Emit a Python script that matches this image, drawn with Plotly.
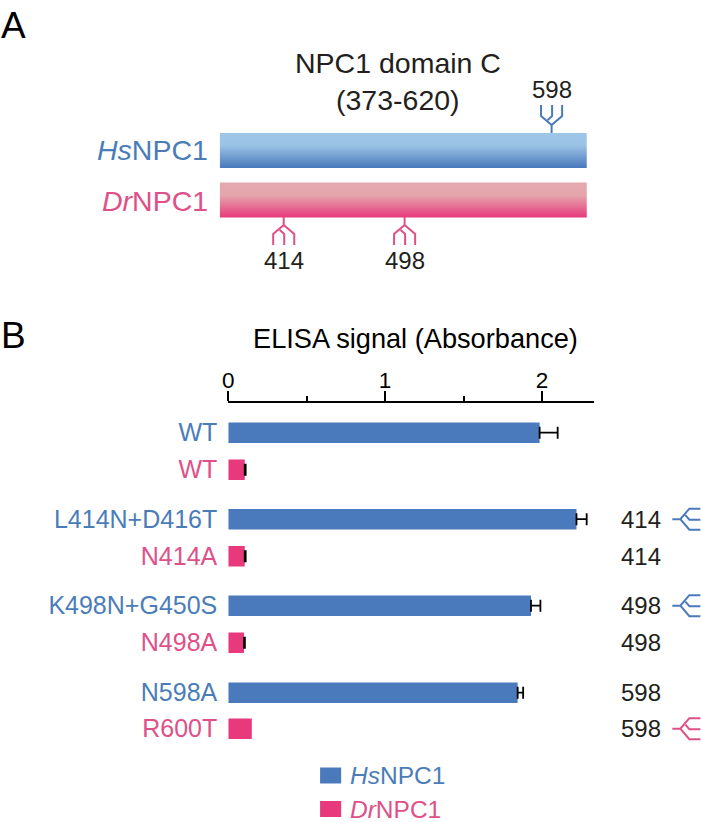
import plotly.graph_objects as go

W = 701
H = 822

BLUE = '#4a7abc'
PINK = '#e8397c'
BLUE_TXT = '#4a7db8'
PINK_TXT = '#e05088'
DARK = '#231f20'

# panel B values
hs_labels = ['WT', 'L414N+D416T', 'K498N+G450S', 'N598A']
dr_labels = ['WT', 'N414A', 'N498A', 'R600T']
hs_values = [1.985, 2.22, 1.93, 1.845]
dr_values = [0.105, 0.105, 0.10, 0.15]
hs_errors = [0.115, 0.065, 0.06, 0.035]
dr_errors = [0.006, 0.006, 0.006, None]
hs_sites = ['', '414', '498', '598']
dr_sites = ['', '414', '498', '598']
hs_glycan_flags = [False, True, True, False]
dr_glycan_flags = [False, False, False, True]

# panel A values
domain_start = 373
domain_end = 620
hs_glycans = [598]
dr_glycans = [414, 498]
hs_gradient = [[0, '#9dc6e9'], [0.35, '#9bc3e6'], [1, '#4a7abc']]
dr_gradient = [[0, '#e4a9ae'], [0.35, '#e4a5ab'], [1, '#e8397c']]

# the photographed page sits a little off the requested width
X_OFF = 7
X_SCALE = 0.988


def px_x(x):
    return (x - X_OFF) / X_SCALE / W


def px_y(y):
    return 1 - y / H


def glycan_path(cx, cy, sx, sy, swap=False):
    # antenna drawn pointing along +v from the base point (cx, cy)
    segs = [
        [(0, 0), (0, 8), (-10.5, 17), (-10.5, 28)],
        [(0, 8), (10.5, 17), (10.5, 28)],
        [(-4, 13), (0.5, 17), (0.5, 28)],
    ]
    out = ''
    for seg in segs:
        for i, (u, v) in enumerate(seg):
            if swap:
                x, y = cx + v * sx, cy + u * sy
            else:
                x, y = cx + u * sx, cy + v * sy
            out += ('M' if i == 0 else 'L') + f'{px_x(x):.5f},{px_y(y):.5f} '
    return out


def add_glycan(fig, cx, cy, sx, sy, color, swap=False):
    fig.add_shape(type='path', xref='paper', yref='paper', path=glycan_path(cx, cy, sx, sy, swap),
                  line=dict(color=color, width=2), fillcolor='rgba(0,0,0,0)')


def note(fig, text, x, y, size=24, color=DARK, xanchor='center'):
    fig.add_annotation(text=text, x=px_x(x), y=px_y(y), xref='paper', yref='paper', showarrow=False,
                       xanchor=xanchor, yanchor='middle', font=dict(size=size, color=color), align='center')


ROW = 37.0
GROUP = 86.5
hs_pos = [i * GROUP for i in range(4)]
dr_pos = [p + ROW for p in hs_pos]
hs_pos[3] += 0.5
dr_pos[3] -= 0.5

fig = go.Figure()

fig.add_trace(go.Bar(
    y=hs_pos, x=hs_values, orientation='h', width=20.4, marker=dict(color=BLUE, line_width=0), showlegend=False,
    error_x=dict(type='data', symmetric=False, array=hs_errors, arrayminus=[0] * 4, color='black', thickness=1.8, width=6),
))
# plotly draws a cap for a missing error too, so bars without one go in their own trace
with_err = [i for i in range(4) if dr_errors[i] is not None]
no_err = [i for i in range(4) if dr_errors[i] is None]
fig.add_trace(go.Bar(
    y=[dr_pos[i] for i in with_err], x=[dr_values[i] for i in with_err], orientation='h', width=20.4,
    marker=dict(color=PINK, line_width=0), showlegend=False,
    error_x=dict(type='data', symmetric=False, array=[dr_errors[i] for i in with_err], arrayminus=[0] * len(with_err),
                 color='black', thickness=1.8, width=6),
))
fig.add_trace(go.Bar(
    y=[dr_pos[i] for i in no_err], x=[dr_values[i] for i in no_err], orientation='h', width=20.4,
    marker=dict(color=PINK, line_width=0), showlegend=False,
))

# domain bars, heatmap rows give the vertical gradient
BAR_H = 35
for gradient, top in [(hs_gradient, 133), (dr_gradient, 182.5)]:
    fig.add_trace(go.Heatmap(
        x=[domain_start, domain_end], y=[top + k for k in range(BAR_H + 1)],
        z=[[k / (BAR_H - 1)] for k in range(BAR_H)], zmin=0, zmax=1,
        colorscale=gradient, showscale=False, xaxis='x2', yaxis='y2', hoverinfo='skip',
    ))

ticktext = []
tickvals = []
for i in range(4):
    tickvals += [hs_pos[i], dr_pos[i]]
    ticktext += [f'<span style="color:{BLUE_TXT}">{hs_labels[i]}</span>',
                 f'<span style="color:{PINK_TXT}">{dr_labels[i]}</span>']

fig.update_layout(
    width=W, height=H, margin=dict(l=0, r=0, t=0, b=0), paper_bgcolor='white', plot_bgcolor='rgba(0,0,0,0)',
    font=dict(family='Liberation Sans', size=24, color=DARK), showlegend=False, barmode='overlay',
    xaxis=dict(domain=[px_x(228.5), px_x(592.7)], range=[0, 2.33], side='top', anchor='y', showgrid=False, zeroline=False,
               showline=True, linecolor='black', linewidth=1.8, ticks='outside', ticklen=10, tickwidth=1.8, tickcolor='black',
               tickvals=[0, 1, 2], ticktext=['0', '1', '2'], tickfont=dict(size=22.5, color='black'), ticklabelstandoff=-6,
               minor=dict(tickvals=[0.5, 1.5], ticks='outside', ticklen=5, tickwidth=1.8, tickcolor='black')),
    yaxis=dict(domain=[px_y(760), px_y(402.7)], range=[357.3 - 30, -30], anchor='x', showgrid=False, zeroline=False,
               showline=False, ticks='', tickvals=tickvals, ticktext=ticktext, tickfont=dict(size=25), ticklabelstandoff=10),
    xaxis2=dict(domain=[px_x(220), px_x(586)], range=[domain_start, domain_end], anchor='y2', visible=False),
    yaxis2=dict(domain=[0, 1], range=[H, 0], anchor='x2', visible=False),
)

# glycan stems sit a few pixels off a straight residue scale
site_nudge = {414: 3, 498: -1, 598: -2.7}
res_to_px = lambda r: 220 + (r - domain_start) / (domain_end - domain_start) * 366 + site_nudge[r]

for r in hs_glycans:
    add_glycan(fig, res_to_px(r), 133, 1, -1, BLUE)
    note(fig, str(r), res_to_px(r), 90)
for r in dr_glycans:
    add_glycan(fig, res_to_px(r), 217, 1, 1, '#e05088')
    note(fig, str(r), res_to_px(r), 260)

note(fig, 'A', 14, 25, size=37, color='black')
note(fig, 'B', 14, 335, size=37, color='black')
note(fig, 'NPC1 domain C', 398, 63, size=28.5)
note(fig, '(373-620)', 398, 100, size=28.5)
note(fig, '<i>Hs</i>NPC1', 210, 150, size=28.5, color=BLUE_TXT, xanchor='right')
note(fig, '<i>Dr</i>NPC1', 210, 201, size=28.5, color=PINK_TXT, xanchor='right')
note(fig, 'ELISA signal (Absorbance)', 414.7, 338, size=27.2, color='black')

# site labels right of the bars
y_of = lambda p: 402.7 + 30 + p
for i in range(4):
    if hs_sites[i]:
        note(fig, hs_sites[i], 661.7, y_of(hs_pos[i]), xanchor='right')
    if dr_sites[i]:
        note(fig, dr_sites[i], 661.7, y_of(dr_pos[i]), xanchor='right')
    if hs_glycan_flags[i]:
        add_glycan(fig, 671, y_of(hs_pos[i]), 1, 1, BLUE, swap=True)
    if dr_glycan_flags[i]:
        add_glycan(fig, 671, y_of(dr_pos[i]), 1, 1, '#e05088', swap=True)

# legend
for label, color, txt, yc in [('<i>Hs</i>NPC1', BLUE, BLUE_TXT, 775.5), ('<i>Dr</i>NPC1', PINK, PINK_TXT, 809)]:
    fig.add_shape(type='rect', xref='paper', yref='paper', x0=px_x(320), x1=px_x(341), y0=px_y(yc - 8), y1=px_y(yc + 8),
                  fillcolor=color, line_width=0)
    note(fig, label, 348, yc, size=24.5, color=txt, xanchor='left')

fig.write_html("out.html", config=dict(displayModeBar=False), post_script="document.body.style.margin='0'")
